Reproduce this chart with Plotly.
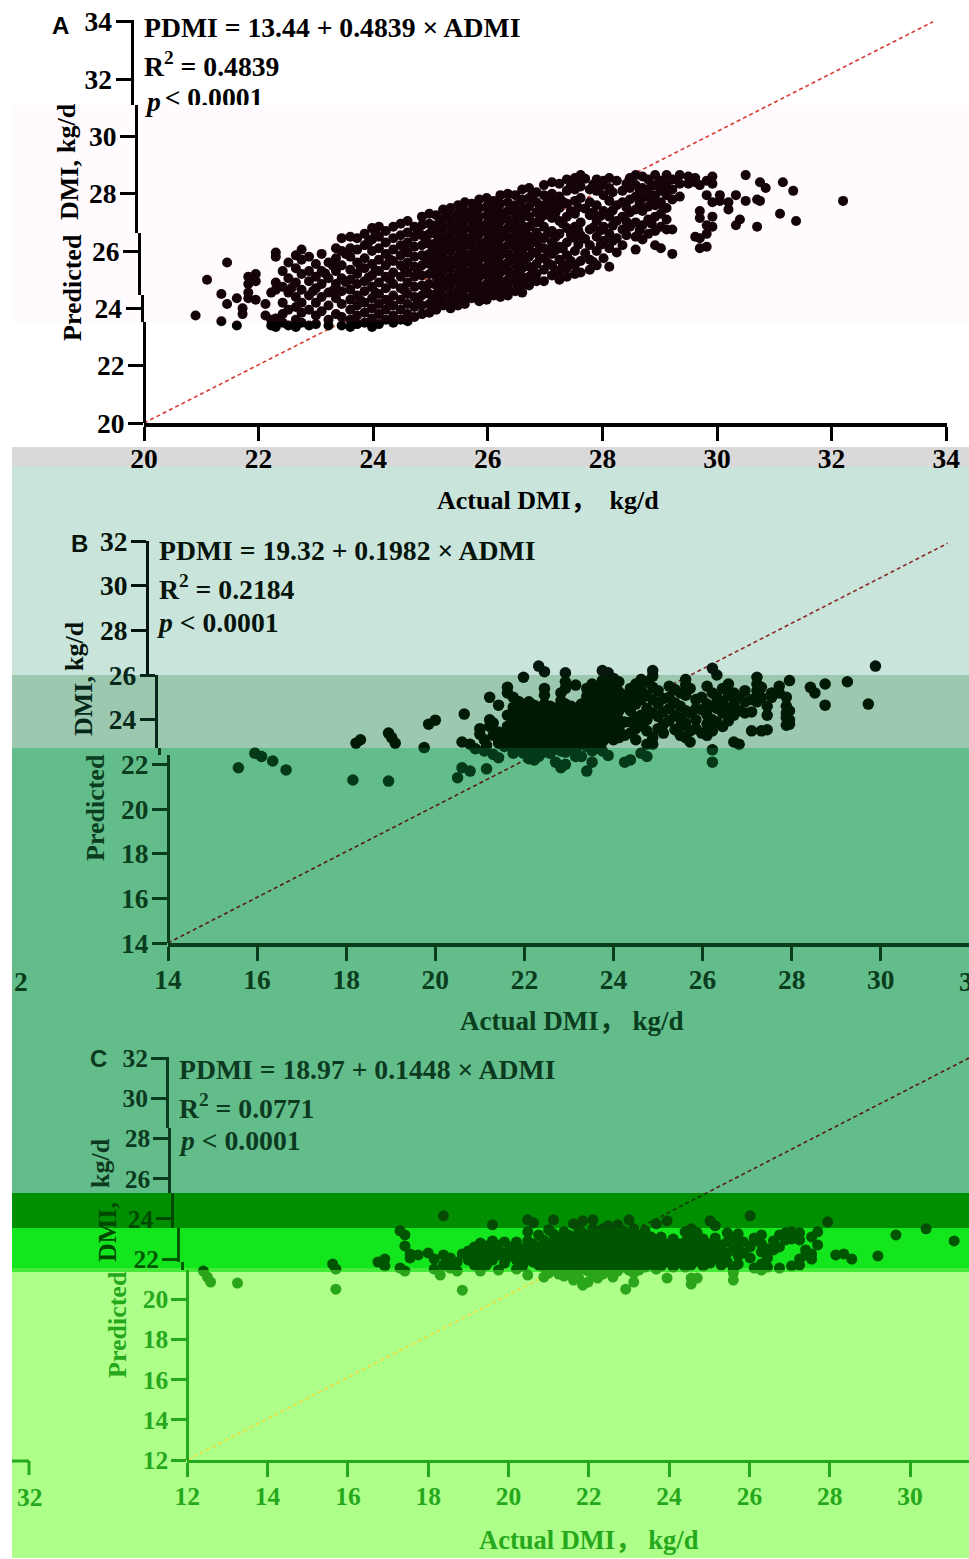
import plotly.graph_objects as go

W, H = 969, 1559

# ---------- data: (actual DMI, [predicted DMI ...]) ----------
a_columns = [
(20.9,[23.75]),(21.1,[25.0]),(21.35,[24.5,23.55]),(21.45,[25.6,24.15]),(21.62,[24.35,23.4]),(21.72,[24.0,23.8]),
(21.82,[25.1,24.85,24.55,24.35]),(21.95,[25.2,24.95,24.3]),(22.12,[24.15,23.75]),(22.22,[24.55,23.6,23.4]),
(22.3,[25.95,25.8,24.9,24.65,23.65,23.35]),(22.42,[25.3,24.75,24.2,23.8,23.5]),(22.52,[25.6,25.05,24.55,23.95,23.4]),
(22.65,[25.85,25.4,24.9,24.4,24.05,23.6,23.35]),(22.75,[26.05,25.7,25.2,24.65,24.2,23.85,23.5]),
(22.88,[25.8,25.3,24.95,24.45,23.95,23.4]),(23.0,[25.55,25.1,24.7,24.2,23.75,23.45]),(23.1,[25.9,25.3,24.85,24.4,23.9]),
(23.22,[25.6,25.05,24.55,24.1,23.6,23.4]),(23.35,[26.1,25.75,25.3,24.85,24.35,23.8]),
(23.45,[26.45,26.0,25.5,25.05,24.6,24.15,23.7,23.4]),(23.6,[26.5,26.1,25.8,25.35,25.0,24.65,24.3,23.95,23.6,23.35]),
(23.72,[26.45,26.05,25.6,25.2,24.85,24.45,24.1,23.75,23.45]),(23.85,[26.6,26.2,25.75,25.4,24.95,24.6,24.2,23.85,23.5]),
(23.98,[26.8,26.4,26.0,25.55,25.15,24.75,24.35,24.0,23.65,23.35]),(24.1,[26.85,26.5,26.1,25.7,25.3,24.9,24.5,24.15,23.8,23.45]),
(24.22,[26.7,26.3,25.9,25.5,25.1,24.7,24.3,23.95,23.6]),(24.35,[26.85,26.45,26.05,25.65,25.25,24.85,24.45,24.1,23.75,23.5]),
(24.48,[26.95,26.55,26.2,25.85,25.5,25.1,24.7,24.3,23.95,23.6]),(24.6,[27.05,26.65,26.3,25.95,25.6,25.25,24.9,24.5,24.15,23.8,23.55]),
(24.72,[26.85,26.5,26.15,25.8,25.45,25.1,24.75,24.4,24.05,23.7]),(24.85,[27.2,26.9,26.55,26.2,25.85,25.5,25.15,24.8,24.45,24.1,23.8]),
(24.98,[27.3,26.95,26.6,26.25,25.9,25.55,25.2,24.85,24.5,24.15,23.85]),(25.1,[27.25,26.9,26.6,26.3,26.0,25.7,25.4,25.1,24.8,24.5,24.2,23.95]),
(25.22,[27.45,27.1,26.8,26.5,26.2,25.9,25.6,25.3,25.0,24.7,24.4,24.1]),(25.35,[27.5,27.2,26.9,26.6,26.3,26.0,25.7,25.4,25.1,24.8,24.5,24.2,24.0]),
(25.48,[27.6,27.3,27.0,26.7,26.4,26.1,25.8,25.5,25.2,24.9,24.6,24.3,24.1]),(25.6,[27.7,27.4,27.1,26.8,26.5,26.2,25.9,25.6,25.3,25.0,24.7,24.4,24.15]),
(25.72,[27.65,27.35,27.05,26.75,26.45,26.15,25.85,25.55,25.25,24.95,24.65,24.35]),(25.85,[27.8,27.5,27.2,26.9,26.6,26.3,26.0,25.7,25.4,25.1,24.8,24.5,24.25]),
(25.98,[27.85,27.55,27.25,26.95,26.65,26.35,26.05,25.75,25.45,25.15,24.85,24.55,24.3]),(26.1,[27.75,27.45,27.15,26.85,26.55,26.25,25.95,25.65,25.35,25.05,24.75,24.45]),
(26.22,[27.95,27.65,27.35,27.05,26.75,26.45,26.15,25.85,25.55,25.25,24.95,24.65,24.4]),(26.35,[28.0,27.7,27.4,27.1,26.8,26.5,26.2,25.9,25.6,25.3,25.0,24.7,24.45]),
(26.48,[27.95,27.6,27.3,27.0,26.7,26.4,26.1,25.8,25.5,25.2,24.9,24.6]),(26.6,[28.15,27.8,27.5,27.2,26.9,26.6,26.3,26.0,25.7,25.4,25.1,24.8,24.55]),
(26.72,[28.2,27.85,27.55,27.2,26.85,26.5,26.15,25.8,25.45,25.1,24.8]),(26.85,[28.05,27.7,27.35,27.0,26.65,26.3,25.95,25.55,25.2,24.95]),
(26.98,[28.3,27.95,27.6,27.25,26.85,26.45,26.1,25.75,25.35,24.95]),(27.12,[28.4,28.0,27.55,27.15,26.7,26.3,25.9,25.5,25.15]),
(27.25,[28.35,27.9,27.5,27.05,26.6,26.15,25.7,25.3,25.0]),(27.38,[28.5,28.1,27.65,27.2,26.8,26.3,25.85,25.4,25.1]),
(27.52,[28.55,28.15,27.75,27.3,26.85,26.45,26.0,25.5,25.2]),(27.62,[28.65,28.25,27.85,27.0,26.55,25.65,25.25]),
(27.78,[28.15,27.7,27.25,26.75,26.2,25.7,25.35]),(27.9,[28.5,28.1,27.6,27.05,26.5,26.0,25.5]),(28.02,[28.45,27.95,27.4,26.85,26.35,25.75]),
(28.12,[28.55,28.2,27.75,27.2,26.6,26.1,25.45]),(28.25,[28.45,27.6,27.05,26.45,25.95]),(28.35,[28.1,27.7,27.2,26.75,26.2]),
(28.48,[28.55,28.2,27.8,27.35,26.85]),(28.58,[28.65,28.3,27.9,27.45,27.0,26.5,26.05]),(28.7,[28.6,28.2,27.85,27.4,26.9,26.4]),
(28.8,[28.5,28.15,27.9,27.55,27.1,26.6]),(28.92,[28.65,28.3,27.95,27.6,27.2,26.7,26.2]),(29.02,[28.45,28.1,27.7,27.3,26.85,26.1]),
(29.12,[28.65,28.3,27.95,27.5,27.1,26.75]),(29.22,[28.5,28.15,27.8,26.75,25.9]),(29.35,[28.65,28.35,27.9]),(29.5,[28.6,28.35]),
(29.62,[28.55,28.4,26.5]),(29.7,[28.3,27.4,27.15,26.45,26.1]),(29.82,[28.45,27.95,26.9,26.6,26.15]),(29.92,[28.6,28.35,27.7,27.2,26.85]),
(30.05,[27.95,27.75]),(30.2,[27.7,27.45]),(30.33,[27.95,26.9]),(30.4,[27.1]),(30.5,[28.65,27.75]),(30.7,[26.85,27.8]),
(30.75,[28.4,27.75]),(30.85,[28.2]),(31.1,[27.3]),(31.15,[28.4]),(31.33,[28.1]),(31.38,[27.05]),(32.2,[27.75]),
]
# points between the columns above, breaking up the densest part of the cloud
a_extra = [
(24.04,[25.33,24.55,26.62]),(24.29,[25.02,25.71,24.14]),(24.55,[24.62,26.12,25.37]),(24.78,[25.28,26.67,24.23]),(24.92,[25.72,24.63,26.38]),
(25.04,[26.77,25.27,24.33,25.83,26.14]),(25.16,[25.53,26.42,24.57,25.03,26.95]),(25.28,[26.04,24.86,27.28,25.45,26.33]),(25.42,[25.62,26.83,24.37,26.18,25.03]),
(25.54,[26.27,25.07,27.46,25.66,24.53]),(25.66,[24.83,25.74,27.23,26.36,25.22]),(25.79,[26.58,25.23,27.58,25.82,24.93]),(25.91,[24.67,26.13,25.88,26.77,25.28]),
(26.04,[27.31,25.52,24.62,26.23,25.04]),(26.16,[26.07,25.18,27.63,26.71,25.62]),(26.29,[24.82,26.63,25.42,27.22,26.02]),(26.41,[27.53,25.72,26.33,25.12,26.92]),
(26.54,[25.02,27.07,26.46,25.63,27.62]),(26.66,[24.93,25.56,27.34,26.23,26.72]),(26.79,[26.97,25.32,27.97,26.32,25.93]),
(26.91,[25.73,26.48,27.51,26.12,27.12]),(27.05,[26.62,25.58,27.42,26.02,27.78]),(27.18,[26.02,27.33,25.33,26.48,27.72]),(27.31,[25.53,26.95,27.72,26.08]),(27.45,[26.57,25.65,28.28,27.4]),
(27.58,[26.22,27.52,28.42,26.72]),(27.7,[26.42,27.48,28.52,25.92]),(27.84,[26.82,27.35,28.32,25.62]),(27.97,[26.22,27.22,28.27,26.72]),(28.18,[26.88,27.42,28.05,26.35]),
(28.42,[27.03,27.52,28.35,26.55]),(28.65,[28.05,27.68,26.72]),(28.86,[27.78,28.28,26.95]),(29.07,[28.22,27.52]),(23.3,[24.62,25.48]),(23.52,[24.92,25.9]),
(23.78,[24.28,25.42]),(23.92,[25.08,26.32]),(22.58,[24.72]),(22.95,[24.6]),(23.16,[25.22]),
]
b_columns = [
(15.58,[21.85]),(15.95,[22.5]),(16.1,[22.35]),(16.35,[22.15]),(16.65,[21.75]),(18.15,[21.3]),(18.22,[22.95]),(18.32,[23.1]),
(18.95,[23.4,21.25]),(19.02,[23.2]),(19.1,[22.95]),(19.75,[22.75]),(19.85,[23.8]),(20.0,[23.98]),(20.5,[21.4]),(20.6,[21.85,23.0]),
(20.65,[24.25]),(20.78,[22.9,21.7]),(20.9,[22.7]),(21.0,[23.6,23.35]),(21.1,[23.1,22.6]),(21.15,[21.8,22.85]),(21.22,[24.0,25.0,23.7]),
(21.3,[22.45,23.3,23.85]),(21.42,[24.65,23.45,22.95,22.3]),(21.55,[23.2,22.8]),(21.62,[25.45,25.2,24.2,23.7,23.3,22.9]),
(21.75,[25.0,24.55,24.2,23.85,23.5,23.15,22.8,22.5]),(21.88,[24.8,24.45,24.1,23.75,23.4,23.05,22.7]),(21.98,[25.9,24.6,24.25,23.9,23.55,23.2,22.85,22.5]),
(22.1,[24.8,24.35,24.0,23.65,23.3,22.95,22.6,22.25]),(22.22,[24.65,24.25,23.9,23.55,23.2,22.85,22.5,22.2]),(22.32,[26.4,24.5,24.1,23.75,23.4,23.05,22.7,22.35]),
(22.45,[26.15,25.4,25.1,24.7,24.3,23.95,23.6,23.25,22.9,22.55]),(22.58,[24.6,24.2,23.85,23.5,23.15,22.8,22.5]),(22.7,[24.5,24.1,23.75,23.4,23.05,22.7,22.1]),
(22.82,[25.2,24.85,24.4,24.0,23.65,23.3,22.95,22.6,21.85]),(22.92,[26.1,25.7,25.4,24.7,24.3,23.9,23.55,23.2,22.85,22.55,22.0]),
(23.05,[24.6,24.2,23.85,23.5,23.15,22.8]),(23.15,[25.55,24.4,24.05,23.7,23.35,23.0,22.6,22.35]),(23.28,[24.7,24.3,23.95,23.6,23.25,22.9,22.35]),
(23.4,[25.4,25.05,24.65,24.25,23.85,23.5,23.15,22.8,21.7]),(23.52,[25.6,25.2,24.8,24.4,24.0,23.65,23.3,22.95,22.6,22.1]),
(23.65,[25.4,25.0,24.6,24.2,23.85,23.5,23.1,22.75]),(23.75,[26.2,25.75,25.3,24.9,24.5,24.1,23.7,23.35,23.0,22.6]),
(23.88,[26.1,25.55,25.15,24.75,24.35,23.95,23.6,23.2,22.4]),(24.0,[25.85,25.4,25.0,24.6,24.2,23.8,23.45,23.1]),
(24.12,[25.7,25.25,24.85,24.4,24.0,23.6,23.2]),(24.25,[25.1,24.6,23.9,23.3,22.1]),(24.38,[25.4,24.95,24.4,23.9,23.4,22.2]),
(24.5,[25.6,25.15,24.7,24.1,23.6,23.1]),(24.62,[25.8,25.35,24.9,24.2,23.75,22.5]),(24.75,[25.7,25.1,24.5,24.0,23.5,22.9,22.35]),
(24.88,[26.2,25.95,25.45,24.9,24.3,23.2,22.9]),(25.0,[25.3,24.7,24.15,23.6]),(25.12,[24.95,24.35,23.8,23.4]),
(25.25,[25.5,25.0,24.5,23.95]),(25.38,[25.35,24.75,24.2,23.55]),(25.5,[25.2,24.6,24.05,23.7,23.3]),(25.62,[25.8,25.55,25.1,24.4,23.85,23.2]),
(25.72,[25.4,24.3,23.5,23.0]),(25.85,[24.9,24.5,24.0,23.6]),(25.98,[25.0,24.45,23.4]),(26.1,[25.5,24.7,24.2,23.8,23.3]),
(26.22,[26.3,25.2,24.6,24.0,23.5,22.65,22.1]),(26.32,[26.0,25.0,24.5,23.9]),(26.45,[25.4,24.8,24.3,23.7]),(26.58,[25.6,25.1,24.5,23.95]),
(26.7,[25.2,24.7,24.2,23.0]),(26.82,[25.0,24.4,22.9]),(26.95,[25.3,24.8,24.3]),(27.1,[24.9,24.35,23.5]),(27.22,[25.9,25.6,25.3,24.8]),
(27.32,[25.45,25.0,23.5]),(27.45,[24.6,24.2,23.55]),(27.55,[25.2,25.0]),(27.72,[25.5,25.2]),(27.88,[25.0,24.6,24.3,24.1,23.75]),
(27.95,[25.75,24.4,24.0,23.8]),(28.42,[25.45]),(28.52,[25.2]),(28.75,[25.6,24.65]),(29.25,[25.7]),(29.72,[24.7]),(29.88,[26.4]),
]
c_columns = [
(12.4,[21.4]),(12.5,[21.1]),(12.58,[20.85]),(13.25,[20.8]),(15.62,[21.75]),(15.7,[20.5,21.5]),(16.75,[21.85]),(16.92,[22.0,21.65]),
(17.3,[21.55,23.4]),(17.42,[23.2,22.65,21.4]),(17.55,[22.25,22.05]),(17.75,[22.2]),(18.0,[22.3]),(18.15,[21.5,22.0]),(18.3,[21.2]),
(18.38,[24.15,22.2,21.7]),(18.55,[21.55,22.05]),(18.72,[21.4,21.85]),(18.85,[22.25,20.45]),(19.0,[22.4,21.95]),(19.15,[22.6,22.15,21.7]),
(19.3,[22.8,22.3,21.85,21.4]),(19.45,[22.65,22.2,21.7]),(19.6,[23.7,22.9,22.45,21.95]),(19.75,[22.7,22.2,21.45]),(19.9,[22.85,22.3,21.8]),
(20.05,[22.6,22.15]),(20.2,[22.85,22.4,21.95,21.5]),(20.35,[22.5,22.1,21.65]),(20.48,[23.95,23.35,22.9,22.45,21.95,21.2]),
(20.62,[23.8,22.75,22.3,21.85]),(20.75,[23.2,22.6,22.15,21.7]),(20.88,[22.95,22.5,22.05,21.6,21.1]),(21.0,[23.45,22.7,22.25,21.8,21.3]),
(21.12,[23.95,23.25,22.85,22.4,21.95,21.5]),(21.25,[23.05,22.6,22.15,21.7,21.25]),(21.38,[23.35,22.9,22.45,22.0,21.55,21.15]),
(21.5,[23.2,22.75,22.3,21.85,21.4]),(21.62,[23.75,23.1,22.65,22.2,21.75,21.3,20.95]),(21.75,[23.45,23.0,22.55,22.1,21.65,21.05]),
(21.85,[23.9,23.3,22.85,22.4,21.95,21.5,20.7]),(21.98,[23.2,22.75,22.3,21.85,21.4,20.85]),(22.1,[23.95,23.5,23.05,22.6,22.15,21.7,21.25]),
(22.22,[23.3,22.85,22.4,21.95,21.5,21.05]),(22.35,[23.5,23.05,22.6,22.15,21.7,21.25]),(22.48,[23.65,23.2,22.75,22.3,21.85,21.4]),
(22.6,[23.35,22.9,22.45,22.0,21.55,21.1]),(22.72,[23.7,23.2,22.75,22.3,21.85,21.4]),(22.85,[23.4,22.95,22.5,22.05,21.6]),
(22.92,[20.5]),(23.0,[23.95,23.25,22.8,22.35,21.9,21.45]),(23.12,[23.5,23.0,22.55,22.1,21.65,21.3,20.85]),(23.25,[23.2,22.75,22.3,21.85,21.45]),
(23.4,[23.4,22.95,22.5,22.05,21.6]),(23.55,[23.1,22.65,22.2,21.75]),(23.68,[23.75,22.85,22.4,21.95,21.5]),(23.8,[23.1,22.6,22.15,21.65]),
(23.95,[23.9,22.75,22.3,21.85,21.05]),(24.1,[23.0,22.5,22.05,21.6]),(24.25,[22.75,22.25,21.8]),(24.4,[23.35,22.85,22.4,21.95,21.6]),
(24.55,[23.5,23.1,22.6,22.15,21.7,21.05,20.75]),(24.7,[23.3,22.8,22.35,21.9,21.05]),(24.85,[23.0,22.55,22.05,21.65]),
(25.02,[23.9,22.75,22.25,21.8]),(25.15,[23.65,23.05,22.5,22.0]),(25.3,[22.7,22.2,21.7]),(25.45,[23.3,22.85,22.3,21.85]),
(25.6,[23.0,22.45,21.5,21.3,20.95]),(25.72,[23.25,22.7,22.15,21.75]),(25.85,[22.85,22.3]),(26.02,[24.15,22.6,22.05]),
(26.12,[23.05,22.9,21.55]),(26.3,[23.2,22.75,22.35,21.75,21.45]),(26.45,[22.5,22.05,21.6]),(26.6,[22.9,22.45]),(26.75,[23.2,22.6,21.55]),
(26.9,[23.3,22.95]),(27.05,[23.35,23.0,21.65]),(27.25,[23.3,22.95,22.0,21.7]),(27.4,[22.45,22.2]),(27.55,[23.1,22.25,22.0]),
(27.7,[23.35,22.7]),(27.95,[23.85]),(28.15,[22.2]),(28.35,[22.25]),(28.55,[22.0]),(29.2,[22.15]),(29.65,[23.2]),(30.4,[23.5]),(31.1,[22.9]),
]

def unzip(cols):
    return [x for x, ys in cols for _ in ys], [y for _, ys in cols for y in ys]

a_x, a_y = unzip(a_columns + a_extra)
b_x, b_y = unzip(b_columns)
c_x, c_y = unzip(c_columns)

a_line = ([20, 33.77], [20, 34])
b_line = ([14, 31.5], [14, 31.9])
c_line = ([12, 31.47], [12, 32])
a_xticks = [20, 22, 24, 26, 28, 30, 32, 34]
a_yticks = [20, 22, 24, 26, 28, 30, 32, 34]
b_xticks = [14, 16, 18, 20, 22, 24, 26, 28, 30]
b_yticks = [14, 16, 18, 20, 22, 24, 26, 28, 30, 32]
c_xticks = [12, 14, 16, 18, 20, 22, 24, 26, 28, 30]
c_yticks = [12, 14, 16, 18, 20, 22, 24, 26, 28, 30, 32]

SERIF = "Liberation Serif"
TITLE_FONT = "Liberation Serif, Noto Sans CJK SC"
fx = lambda px: px / W
fy = lambda py: 1 - py / H

# colour bands of the picture: top, bottom, fill
bands = [(105, 322, "#FFFAFE"), (447, 467, "#D9D9D9"), (467, 675, "#C9E4DA"), (675, 748, "#9CC8AF"),
         (748, 1193, "#62BD8A"), (1193, 1228, "#008F00"), (1228, 1268, "#14E61E"), (1268, 1272, "#44EA38"),
         (1272, 1558, "#AEFF8A")]

panels = [
    dict(x=a_x, y=a_y, line=a_line, xticks=a_xticks, yticks=a_yticks, x0=(144, 20), xunit=57.3,
         y0=(423, 20), yunit=28.66, xend=946.5, size=10, font=27.5, tickcolor="#000000", xaxw=4, xstand=-6,
         strips=[(20, 105, 131.6, "#000000", "#000000", "#D83A30"),
                 (105, 233, 136, "#000000", "#140308", "#D83A30"),
                 (233, 295, 139, "#000000", "#140308", "#D83A30"),
                 (295, 322, 141.5, "#000000", "#140308", "#D83A30"),
                 (322, 423, 144, "#000000", "#000000", "#D83A30")]),
    dict(x=b_x, y=b_y, line=b_line, xticks=b_xticks, yticks=b_yticks, x0=(168, 14), xunit=44.55,
         y0=(943, 14), yunit=22.33, xend=969, size=11.5, font=27.5, tickcolor="#0A3D1E", xaxw=4, xstand=-5,
         strips=[(541, 675, 147, "#06140C", "#06180E", "#8A2A2A"),
                 (675, 748, 155.7, "#06281A", "#001A05", "#6A2020"),
                 (748, 755, 158.5, "#0A3D1E", "#043A1A", "#5A1A1A"),
                 (755, 943, 168, "#0A3D1E", "#043A1A", "#5A1A1A")]),
    dict(x=c_x, y=c_y, line=c_line, xticks=c_xticks, yticks=c_yticks, x0=(187.3, 12), xunit=40.15,
         y0=(1460, 12), yunit=20.1, xend=969, size=11, font=25.5, tickcolor="#26A81C", xaxw=3, xstand=-3,
         strips=[(1057, 1128, 167, "#0C3A20", "#0C3A20", "#5A1A1A"),
                 (1128, 1193, 169.3, "#0C3A20", "#0C3A20", "#5A1A1A"),
                 (1193, 1228, 172.4, "#004A00", "#064A06", "#1A3A00"),
                 (1228, 1262, 178, "#005A00", "#005500", "#1A3A00"),
                 (1262, 1270, 182, "#005A00", "#005500", "#1A3A00"),
                 (1270, 1460, 187.3, "#26A81C", "#2BA51A", "#F0DC3C")]),
]

fig = go.Figure()
layout = dict(width=W, height=H, margin=dict(l=0, r=0, t=0, b=0, autoexpand=False), paper_bgcolor="#FFFFFF",
              plot_bgcolor="rgba(0,0,0,0)", showlegend=False, shapes=[], annotations=[],
              font=dict(family=SERIF))
axis_no = 0
for p in panels:
    axis_no += 1
    xname = f"x{axis_no}"
    xkey = f"xaxis{axis_no}"
    x_first_px, x_first_val = p["x0"]
    y_first_px, y_first_val = p["y0"]
    xr = [x_first_val, x_first_val + (p["xend"] - x_first_px) / p["xunit"]]
    val_at = lambda py: y_first_val + (y_first_px - py) / p["yunit"]
    ynames = []
    for s in p["strips"]:
        top, bot, axx, col, mcol, lcol = s
        key = f"yaxis{100 + len([k for k in layout if k.startswith('yaxis')])}"
        yname = key.replace("axis", "")
        ynames.append(yname)
        lo, hi = val_at(bot), val_at(top)
        ticks = [t for t in p["yticks"] if lo - 0.01 <= t <= hi + 0.01]
        layout[key] = dict(domain=[fy(bot), fy(top)], range=[lo, hi], anchor="free", position=fx(axx),
                           side="left", showgrid=False, zeroline=False, showline=True, linecolor=col,
                           linewidth=3, ticks="outside" if ticks else "", ticklen=15, tickwidth=3,
                           tickcolor=col, tickmode="array", tickvals=ticks, ticktext=[f"<b>{t}</b>" for t in ticks],
                           showticklabels=bool(ticks),
                           tickfont=dict(family=SERIF, size=p["font"], color=col), ticklabelstandoff=-2)
        fig.add_trace(go.Scatter(x=p["line"][0], y=p["line"][1], mode="lines", xaxis=xname, yaxis=yname,
                                 line=dict(color=lcol, width=1.6, dash="4px,3px"), hoverinfo="skip"))
        fig.add_trace(go.Scatter(x=p["x"], y=p["y"], mode="markers", xaxis=xname, yaxis=yname,
                                 marker=dict(size=p["size"], color=mcol, line=dict(width=0)), hoverinfo="skip"))
    layout[xkey] = dict(domain=[fx(x_first_px), fx(p["xend"])], range=xr, anchor=ynames[-1],
                        showgrid=False, zeroline=False, showline=True, linecolor=p["tickcolor"],
                        linewidth=p["xaxw"], ticks="outside", ticklen=14, tickwidth=3, tickcolor=p["tickcolor"],
                        tickvals=p["xticks"], ticktext=[f"<b>{t}</b>" for t in p["xticks"]],
                        tickfont=dict(family=SERIF, size=p["font"], color=p["tickcolor"]), ticklabelstandoff=p["xstand"])
    p["ynames"] = ynames
    p["xname"] = xname

def note(text, x, y, size=27.7, color="#000000", anchor="left", angle=0, family=SERIF):
    layout["annotations"].append(dict(text=text, x=fx(x), y=fy(y), xref="paper", yref="paper", showarrow=False,
                                      xanchor=anchor, yanchor="middle", textangle=angle,
                                      font=dict(family=family, size=size, color=color)))

for top, bot, col in bands:
    layout["shapes"].append(dict(type="rect", xref="paper", yref="paper", x0=fx(12), x1=1, y0=fy(bot), y1=fy(top),
                                 fillcolor=col, line=dict(width=0), layer="below"))
# wrapped 32 tick of panel C
for x0, x1, y0, y1 in [(12, 29, 1461, 1461), (29, 29, 1461, 1475)]:
    layout["shapes"].append(dict(type="line", xref="paper", yref="paper", x0=fx(x0), x1=fx(x1), y0=fy(y0), y1=fy(y1),
                                 line=dict(color="#26A81C", width=3)))

# panel A p-value text, cut by the band edge
fig.add_trace(go.Scatter(x=[20.36], y=[20 + (423 - 100) / 28.66], mode="text", xaxis="x1", yaxis=panels[0]["ynames"][0],
                         text=["<b>&lt; 0.0001</b>"], textposition="middle right",
                         textfont=dict(family=SERIF, size=27.7, color="#000000"), hoverinfo="skip"))
note("<b><i>p</i></b>", 143, 102)

eq = [("<b>PDMI = 13.44 + 0.4839 × ADMI</b>", 142, 28, "#000000"), ("<b>R<sup>2</sup> = 0.4839</b>", 142, 65, "#000000"),
      ("<b>PDMI = 19.32 + 0.1982 × ADMI</b>", 157, 551, "#06140C"), ("<b>R<sup>2</sup> = 0.2184</b>", 157, 588, "#06140C"),
      ("<b><i>p</i> &lt; 0.0001</b>", 155, 623, "#06140C"),
      ("<b>PDMI = 18.97 + 0.1448 × ADMI</b>", 177, 1069, "#0C3A20"), ("<b>R<sup>2</sup> = 0.0771</b>", 177, 1106, "#0C3A20"),
      ("<b><i>p</i> &lt; 0.0001</b>", 177, 1140, "#0C3A20")]
for t, x, y, c in eq:
    note(t, x, y, color=c)

note("<b>A</b>", 50, 25, size=24, family="Liberation Sans")
note("<b>B</b>", 69, 543, size=24, color="#06140C", family="Liberation Sans")
note("<b>C</b>", 88, 1058, size=24, color="#0C3A20", family="Liberation Sans")

# axis titles
note("<b>Predicted</b>", 72, 288, size=26, anchor="center", angle=-90)
note("<b>DMI,</b>", 70, 190, size=26, anchor="center", angle=-90)
note("<b>kg/d</b>", 66, 128, size=26, anchor="center", angle=-90)
note("<b>Actual DMI，  kg/d</b>", 548, 501, size=26, anchor="center", family=TITLE_FONT)
note("<b>Predicted</b>", 95, 808, size=26, anchor="center", angle=-90, color="#0A3D1E")
note("<b>DMI,</b>", 84, 706, size=26, anchor="center", angle=-90, color="#06281A")
note("<b>kg/d</b>", 75, 646, size=26, anchor="center", angle=-90, color="#06140C")
note("<b>Actual DMI， kg/d</b>", 572, 1021, size=27, anchor="center", color="#0A3D1E", family=TITLE_FONT)
note("<b>Predicted</b>", 117, 1325, size=26, anchor="center", angle=-90, color="#26A81C")
note("<b>DMI,</b>", 107, 1232, size=26, anchor="center", angle=-90, color="#004A00")
note("<b>kg/d</b>", 100, 1163, size=26, anchor="center", angle=-90, color="#0C3A20")
note("<b>Actual DMI， kg/d</b>", 589, 1540, size=26.5, anchor="center", color="#26A81C", family=TITLE_FONT)

# labels wrapped round the picture edge
note("<b>2</b>", 12, 981, size=27.5, color="#0A3D1E")
note("<b>3</b>", 957, 981, size=27.5, color="#0A3D1E")
note("<b>32</b>", 30, 1497, size=25.5, anchor="center", color="#26A81C")

fig.update_layout(**layout)
fig.write_html("out.html", config=dict(displayModeBar=False), post_script="document.body.style.margin='0';")
